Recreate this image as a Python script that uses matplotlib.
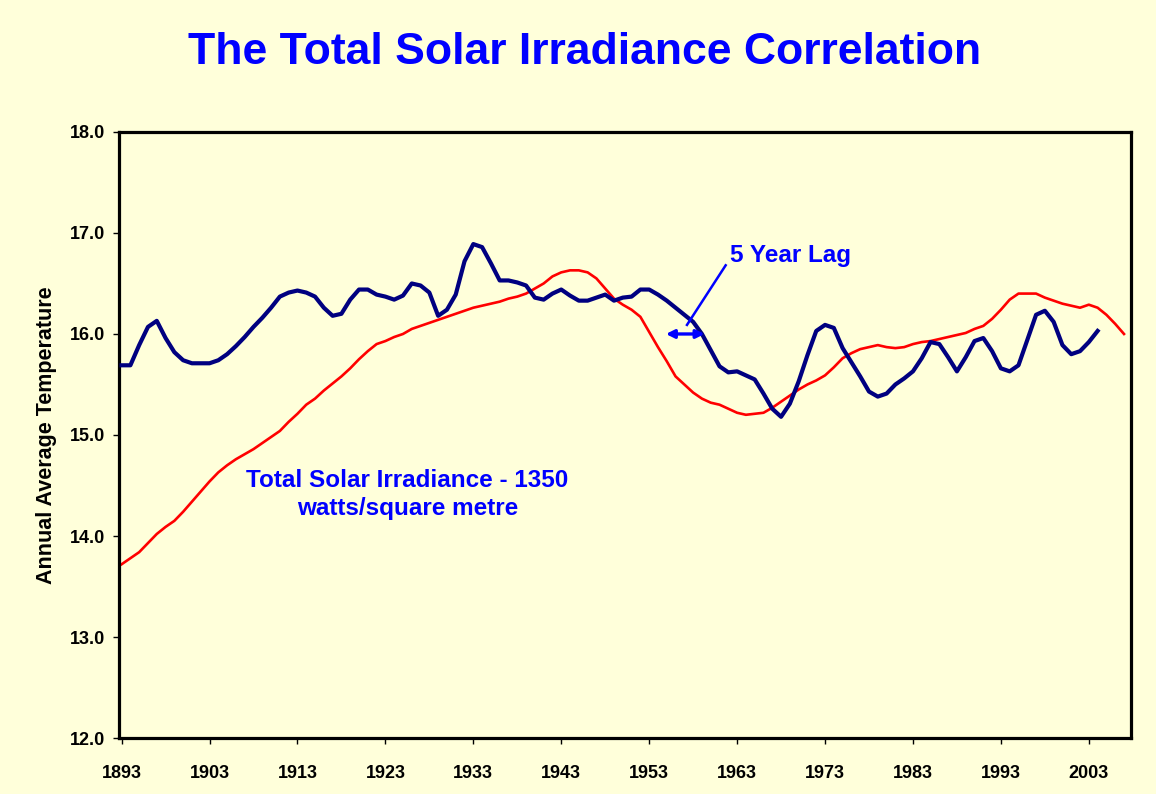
import matplotlib
matplotlib.use('Agg')
import matplotlib.pyplot as plt
import numpy as np

# annual average temperature (navy line), 1893-2004
temperature = [
    15.69, 15.69, 15.89, 16.07, 16.13, 15.96, 15.82, 15.74, 15.71, 15.71,
    15.71, 15.74, 15.80, 15.88, 15.97, 16.07, 16.16, 16.26, 16.37, 16.41,
    16.43, 16.41, 16.37, 16.26, 16.18, 16.20, 16.34, 16.44, 16.44, 16.39,
    16.37, 16.34, 16.38, 16.50, 16.48, 16.41, 16.18, 16.24, 16.39, 16.72,
    16.89, 16.86, 16.70, 16.53, 16.53, 16.51, 16.48, 16.36, 16.34, 16.40,
    16.44, 16.38, 16.33, 16.33, 16.36, 16.39, 16.33, 16.36, 16.37, 16.44,
    16.44, 16.39, 16.33, 16.26, 16.19, 16.12, 16.00, 15.84, 15.68, 15.62,
    15.63, 15.59, 15.55, 15.41, 15.26, 15.18, 15.31, 15.53, 15.79, 16.03,
    16.09, 16.06, 15.86, 15.72, 15.58, 15.43, 15.38, 15.41, 15.50, 15.56,
    15.63, 15.76, 15.92, 15.90, 15.77, 15.63, 15.77, 15.93, 15.96, 15.83,
    15.66, 15.63, 15.69, 15.94, 16.19, 16.23, 16.12, 15.89, 15.80, 15.83,
    15.92, 16.03,
]

# total solar irradiance, scaled onto the temperature axis (red line), 1893-2007
irradiance = [
    13.72, 13.78, 13.84, 13.93, 14.02, 14.09, 14.15, 14.24, 14.34, 14.44,
    14.54, 14.63, 14.70, 14.76, 14.81, 14.86, 14.92, 14.98, 15.04, 15.13,
    15.21, 15.30, 15.36, 15.44, 15.51, 15.58, 15.66, 15.75, 15.83, 15.90,
    15.93, 15.97, 16.00, 16.05, 16.08, 16.11, 16.14, 16.17, 16.20, 16.23,
    16.26, 16.28, 16.30, 16.32, 16.35, 16.37, 16.40, 16.45, 16.50, 16.57,
    16.61, 16.63, 16.63, 16.61, 16.55, 16.45, 16.35, 16.29, 16.24, 16.17,
    16.02, 15.87, 15.73, 15.58, 15.50, 15.42, 15.36, 15.32, 15.30, 15.26,
    15.22, 15.20, 15.21, 15.22, 15.27, 15.33, 15.39, 15.45, 15.50, 15.54,
    15.59, 15.67, 15.76, 15.81, 15.85, 15.87, 15.89, 15.87, 15.86, 15.87,
    15.90, 15.92, 15.93, 15.95, 15.97, 15.99, 16.01, 16.05, 16.08, 16.15,
    16.24, 16.34, 16.40, 16.40, 16.40, 16.36, 16.33, 16.30, 16.28, 16.26,
    16.29, 16.26, 16.19, 16.10, 16.00,
]

start_year = 1893
year_ticks = list(range(1893, 2004, 10))
temp_ticks = [12.0, 13.0, 14.0, 15.0, 16.0, 17.0, 18.0]

years_temp = np.arange(start_year, start_year + len(temperature))
years_irr = np.arange(start_year, start_year + len(irradiance))

bg = '#FFFFDA'
blue = '#0000FF'
font = 'Liberation Sans'

fig = plt.figure(figsize=(11.56, 7.94), dpi=100, facecolor=bg)
ax = fig.add_axes([0.1029, 0.0705, 0.8755, 0.7633], facecolor=bg)

ax.plot(years_irr, irradiance, color='#FF0000', lw=1.9, zorder=2)
ax.plot(years_temp, temperature, color='#000080', lw=3.0, zorder=3)

ax.set_xlim(1892.7, 2007.8)
ax.set_ylim(12, 18)
ax.set_xticks(year_ticks)
ax.set_yticks(temp_ticks)
ax.set_yticklabels(['%.1f' % t for t in temp_ticks])

for s in ax.spines.values():
    s.set_linewidth(2.3)
    s.set_color('black')

ax.tick_params(axis='y', direction='out', length=4.5, width=1, pad=5.5,
               labelsize=13)
ax.tick_params(axis='x', direction='out', length=4.5, width=1, pad=15,
               labelsize=13)
for lab in ax.get_xticklabels() + ax.get_yticklabels():
    lab.set_fontweight('bold')
    lab.set_family(font)

ax.set_ylabel('Annual Average Temperature', fontsize=15.5, fontweight='bold',
              family=font, labelpad=9)

fig.text(0.506, 0.934, 'The Total Solar Irradiance Correlation',
         ha='center', va='center', fontsize=32, fontweight='bold',
         color=blue, family=font)

# lag annotation
ax.text(1962.2, 16.78, '5 Year Lag', ha='left', va='center', fontsize=17.5,
        fontweight='bold', color=blue, family=font)
ax.plot([1961.7, 1957.3], [16.68, 16.09], color=blue, lw=1.8, zorder=4)
ax.annotate('', xy=(1954.9, 16.0), xytext=(1959.3, 16.0),
            arrowprops=dict(arrowstyle='<|-|>', color=blue, lw=2.4,
                            mutation_scale=12, shrinkA=0, shrinkB=0),
            zorder=4)

ax.text(1925.5, 14.41, 'Total Solar Irradiance - 1350\nwatts/square metre',
        ha='center', va='center', multialignment='center', fontsize=17.5,
        fontweight='bold', color=blue, family=font, linespacing=1.25)

fig.savefig('out.png', dpi=100, facecolor=bg)
